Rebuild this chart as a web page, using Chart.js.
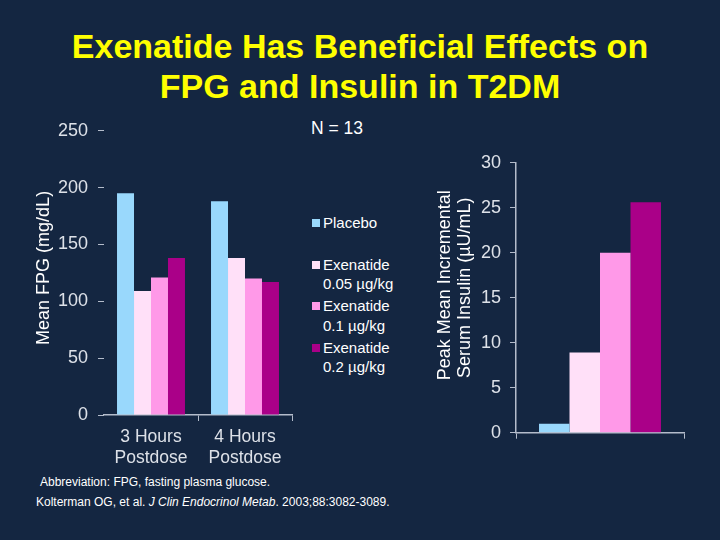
<!DOCTYPE html>
<html><head><meta charset="utf-8">
<script src="https://cdn.jsdelivr.net/npm/chart.js@4"></script>
<style>
html,body{margin:0;padding:0;}
body{width:720px;height:540px;background:#142641;position:relative;overflow:hidden;font-family:"Liberation Sans",Arial,sans-serif;}
.abs{position:absolute;}
#title{left:0;top:26px;width:720px;text-align:center;color:#ffff00;font-weight:bold;font-size:34px;line-height:40px;}
#n{left:311px;top:118px;color:#ffffff;font-size:17.5px;}
#legend{left:312px;top:213px;color:#ffffff;font-size:15px;line-height:19.5px;}
.item{position:relative;height:41.5px;padding-left:11px;}
.sw{position:absolute;left:0;top:6px;width:8px;height:8px;}
#foot1{left:40px;top:475px;color:#ffffff;font-size:12px;}
#foot2{left:36px;top:495px;color:#ffffff;font-size:12px;}
canvas{position:absolute;}
</style></head>
<body>
<div id="title" class="abs">Exenatide Has Beneficial Effects on<br>FPG and Insulin in T2DM</div>
<div id="n" class="abs">N = 13</div>
<div id="legend" class="abs"></div>
<div id="foot1" class="abs">Abbreviation: FPG, fasting plasma glucose.</div>
<div id="foot2" class="abs">Kolterman OG, et al. <i>J Clin Endocrinol Metab</i>. 2003;88:3082-3089.</div>
<canvas id="left" width="300" height="370" style="left:0;top:110px;"></canvas>
<canvas id="right" width="300" height="320" style="left:420px;top:140px;"></canvas>
<script>
// ---- data ----
const fpgCategories = [['3 Hours', 'Postdose'], ['4 Hours', 'Postdose']];
const seriesNames = ['Placebo', 'Exenatide 0.05 µg/kg', 'Exenatide 0.1 µg/kg', 'Exenatide 0.2 µg/kg'];
const legendLines = [['Placebo'], ['Exenatide', '0.05 µg/kg'], ['Exenatide', '0.1 µg/kg'], ['Exenatide', '0.2 µg/kg']];
const fpgPlacebo = [195, 188];
const fpgExen005 = [109, 138];
const fpgExen01 = [121, 120];
const fpgExen02 = [138, 117];
const insulinValues = [1.0, 8.9, 20.0, 25.6];
const fpgTicks = [0, 50, 100, 150, 200, 250];
const insulinTicks = [0, 5, 10, 15, 20, 25, 30];
const fpgAxisTitle = '  Mean FPG (mg/dL)';
const insulinAxisTitle = ['     Peak Mean Incremental', '    Serum Insulin (µU/mL)'];

const colors = ['#99d8fc', '#ffe0f8', '#ff99e8', '#aa0088'];
const axisColor = '#b4bccb';
const tickColor = '#dde1e8';
const FONT = '"Liberation Sans", Arial, sans-serif';

// legend (HTML)
const lg = document.getElementById('legend');
legendLines.forEach((lines, i) => {
  const d = document.createElement('div');
  d.className = 'item';
  d.innerHTML = '<span class="sw" style="background:' + colors[i] + '"></span>' + lines.join('<br>');
  lg.appendChild(d);
});

const fpgSeries = [fpgPlacebo, fpgExen005, fpgExen01, fpgExen02];

new Chart(document.getElementById('left'), {
  type: 'bar',
  data: {
    labels: fpgCategories,
    datasets: fpgSeries.map((v, i) => ({
      label: seriesNames[i], data: v, backgroundColor: colors[i],
      borderWidth: 0, categoryPercentage: 0.723, barPercentage: 1.0
    }))
  },
  options: {
    responsive: false, devicePixelRatio: 1, animation: false,
    layout: { padding: { top: 13.5, right: 8, left: 0, bottom: 0 } },
    plugins: { legend: { display: false }, tooltip: { enabled: false } },
    scales: {
      x: {
        grid: { drawOnChartArea: false, offset: true, tickLength: 6, color: axisColor, lineWidth: 1,
                tickColor: c => (c.index === 0 ? 'rgba(0,0,0,0)' : axisColor) },
        border: { display: true, color: axisColor, width: 1.5 },
        ticks: { color: tickColor, padding: 6, font: { family: FONT, size: 17.5, lineHeight: 1.17 }, maxRotation: 0 },
        afterFit: s => { s.height = 65; }
      },
      y: {
        min: 0, max: 250,
        afterBuildTicks: s => { s.ticks = fpgTicks.map(v => ({ value: v })); },
        grid: { drawOnChartArea: false, tickLength: 6, color: axisColor, lineWidth: 1 },
        border: { display: false },
        ticks: { color: tickColor, padding: 10, font: { family: FONT, size: 18 } },
        title: { display: true, text: fpgAxisTitle, color: '#ffffff', font: { family: FONT, size: 18, lineHeight: 1.2 }, padding: { top: 33, bottom: 0 } },
        afterFit: s => { s.width = 104; }
      }
    }
  }
});

new Chart(document.getElementById('right'), {
  type: 'bar',
  data: {
    labels: [''],
    datasets: insulinValues.map((v, i) => ({
      label: seriesNames[i], data: [v], backgroundColor: colors[i],
      borderWidth: 0, categoryPercentage: 0.726, barPercentage: 1.0
    }))
  },
  options: {
    responsive: false, devicePixelRatio: 1, animation: false,
    layout: { padding: { top: 22.7, right: 36, left: 0, bottom: 0 } },
    plugins: { legend: { display: false }, tooltip: { enabled: false } },
    scales: {
      x: {
        grid: { drawOnChartArea: false, offset: true, tickLength: 6, color: axisColor, lineWidth: 1 },
        border: { display: true, color: axisColor, width: 1.5 },
        ticks: { display: false },
        afterFit: s => { s.height = 27.3; }
      },
      y: {
        min: 0, max: 30,
        afterBuildTicks: s => { s.ticks = insulinTicks.map(v => ({ value: v })); },
        grid: { drawOnChartArea: false, tickLength: 6, color: axisColor, lineWidth: 1 },
        border: { display: true, color: axisColor, width: 1.5 },
        ticks: { color: tickColor, padding: 9, font: { family: FONT, size: 18 } },
        title: { display: true, text: insulinAxisTitle, color: '#ffffff', font: { family: FONT, size: 18, lineHeight: 1.1 }, padding: { top: 15, bottom: 0 } },
        afterFit: s => { s.width = 96; }
      }
    }
  }
});
</script>
</body></html>
